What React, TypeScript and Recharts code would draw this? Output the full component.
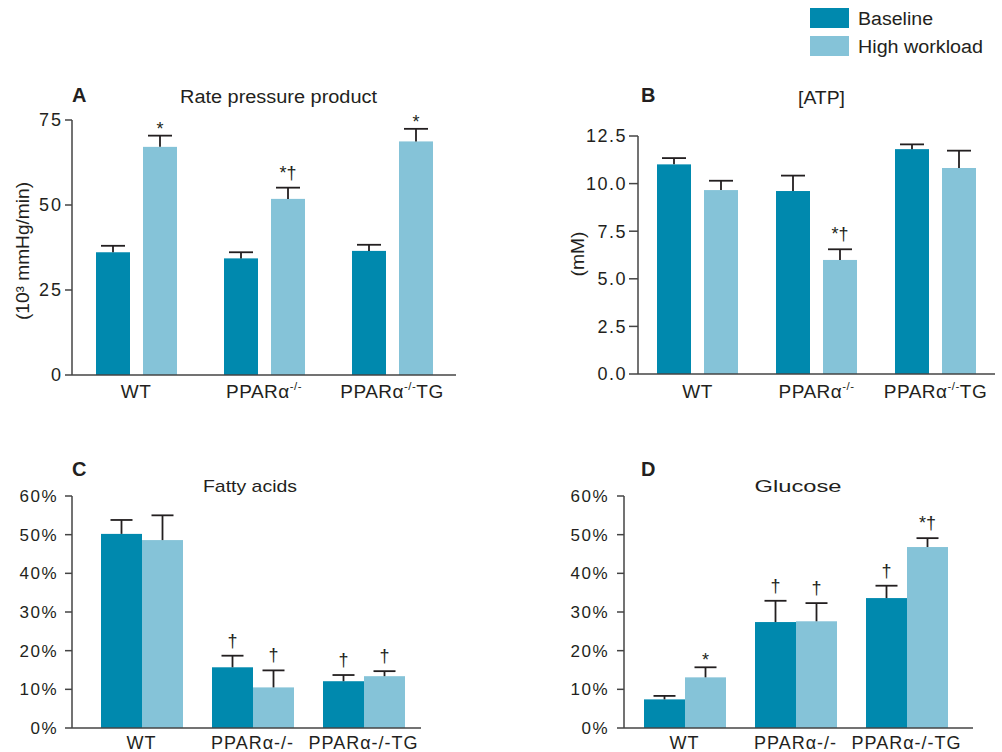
import React from 'react';
import { BarChart, Bar, XAxis, YAxis } from 'recharts';

const BASE_COLOR = '#0089ae';
const HIGH_COLOR = '#85c3d8';
const INK = '#231f20';
const AXIS = '#444444';
const FONT = '"Liberation Sans", Arial, Helvetica, sans-serif';

const CATS = ['WT', 'PPARα-/-', 'PPARα-/-TG'];

// A: rate pressure product (10^3 mmHg/min)
const RPP_TICKS = [0, 25, 50, 75];
const RPP_BASE = [36.1, 34.3, 36.5];
const RPP_BASE_ERR = [1.9, 1.8, 1.8];
const RPP_HIGH = [67.1, 51.8, 68.7];
const RPP_HIGH_ERR = [3.3, 3.3, 3.7];
const RPP_BASE_MARK = ['', '', ''];
const RPP_HIGH_MARK = ['*', '*†', '*'];

// B: [ATP] (mM)
const ATP_TICKS = [0, 2.5, 5, 7.5, 10, 12.5];
const ATP_BASE = [11.01, 9.61, 11.81];
const ATP_BASE_ERR = [0.33, 0.81, 0.25];
const ATP_HIGH = [9.66, 5.99, 10.82];
const ATP_HIGH_ERR = [0.49, 0.56, 0.91];
const ATP_BASE_MARK = ['', '', ''];
const ATP_HIGH_MARK = ['', '*†', ''];

// C: fatty acids (%)
const PCT_TICKS = [0, 10, 20, 30, 40, 50, 60];
const FA_BASE = [50.2, 15.7, 12.1];
const FA_BASE_ERR = [3.6, 3.0, 1.6];
const FA_HIGH = [48.6, 10.5, 13.4];
const FA_HIGH_ERR = [6.4, 4.4, 1.3];
const FA_BASE_MARK = ['', '†', '†'];
const FA_HIGH_MARK = ['', '†', '†'];

// D: glucose (%)
const GLU_BASE = [7.4, 27.4, 33.6];
const GLU_BASE_ERR = [0.9, 5.5, 3.2];
const GLU_HIGH = [13.1, 27.6, 46.8];
const GLU_HIGH_ERR = [2.6, 4.7, 2.3];
const GLU_BASE_MARK = ['', '†', '†'];
const GLU_HIGH_MARK = ['*', '†', '*†'];

const mkRows = (
  base: number[], baseErr: number[], high: number[], highErr: number[],
  baseMark: string[], highMark: string[]
) =>
  CATS.map((cat, i) => ({
    cat,
    base: base[i], baseErr: baseErr[i], baseMark: baseMark[i],
    high: high[i], highErr: highErr[i], highMark: highMark[i],
  }));

// bar with an upward-only error whisker and significance mark
const errShape = (valKey: string, errKey: string, markKey: string, capW: number) => (p: any) => {
  const { x, y, width, height, fill, payload } = p;
  const v = payload[valKey];
  const k = v ? height / v : 0;
  const ey = y - payload[errKey] * k;
  const cx = x + width / 2;
  const mark = payload[markKey];
  return (
    <g>
      <rect x={x} y={y} width={width} height={height} fill={fill} />
      <line x1={cx} x2={cx} y1={y} y2={ey} stroke={INK} strokeWidth={1.8} />
      <line x1={cx - capW / 2} x2={cx + capW / 2} y1={ey} y2={ey} stroke={INK} strokeWidth={1.8} />
      {mark ? (
        <text x={cx} y={mark === '*' ? ey - 1 : ey - 9} textAnchor="middle" fontSize={18} fontFamily={FONT} fill={INK}>
          {mark}
        </text>
      ) : null}
    </g>
  );
};

const CatTick = (props: any) => {
  const { x, y, payload, sup, fs, ls, dy } = props;
  const v: string = payload.value;
  const common = { x, y: y + dy, textAnchor: 'middle' as const, fontSize: fs, fontFamily: FONT, fill: INK, letterSpacing: ls };
  if (sup && v.includes('-/-')) {
    const [a, b] = v.split('-/-');
    return (
      <text {...common}>
        {a}
        <tspan fontSize={fs * 0.6} dy={-fs * 0.4}>-/-</tspan>
        {b ? <tspan fontSize={fs} dy={fs * 0.4}>{b}</tspan> : null}
      </text>
    );
  }
  return <text {...common}>{v}</text>;
};

type PanelProps = {
  left: number; top: number; width: number; height: number;
  margin: { top: number; right: number; bottom: number; left: number };
  rows: any[]; ticks: number[]; fmt: (v: number) => string;
  tickSize: number; tickMargin: number; yFont: number; yLs: number;
  barSize: number; barGap: number; pad: { left: number; right: number };
  sup: boolean; xFont: number; xLs: number; xDy: number; xHeight: number; capW: number;
};

const Panel = (p: PanelProps) => (
  <div style={{ position: 'absolute', left: p.left, top: p.top }}>
    <BarChart width={p.width} height={p.height} data={p.rows} margin={p.margin} barGap={p.barGap}>
      <XAxis
        dataKey="cat"
        interval={0}
        tickLine={false}
        tickSize={0}
        tickMargin={0}
        height={p.xHeight}
        padding={p.pad}
        axisLine={{ stroke: AXIS, strokeWidth: 1.5 }}
        tick={<CatTick sup={p.sup} fs={p.xFont} ls={p.xLs} dy={p.xDy} />}
      />
      <YAxis
        type="number"
        domain={[p.ticks[0], p.ticks[p.ticks.length - 1]]}
        ticks={p.ticks}
        interval={0}
        width={60}
        tickFormatter={p.fmt}
        tickSize={p.tickSize}
        tickMargin={p.tickMargin}
        axisLine={{ stroke: AXIS, strokeWidth: 1.5 }}
        tickLine={{ stroke: AXIS, strokeWidth: 1.5 }}
        tick={{ fill: INK, fontSize: p.yFont, fontFamily: FONT, letterSpacing: p.yLs }}
      />
      <Bar dataKey="base" fill={BASE_COLOR} barSize={p.barSize} isAnimationActive={false}
        shape={errShape('base', 'baseErr', 'baseMark', p.capW)} />
      <Bar dataKey="high" fill={HIGH_COLOR} barSize={p.barSize} isAnimationActive={false}
        shape={errShape('high', 'highErr', 'highMark', p.capW)} />
    </BarChart>
  </div>
);

const txt = { fontFamily: FONT, fill: INK };

export default function App() {
  return (
    <div style={{ position: 'absolute', left: 0, top: 0, width: 1002, height: 752, background: '#fff', overflow: 'hidden' }}>
      <Panel
        left={0} top={80} width={470} height={330}
        margin={{ top: 40, right: 14, bottom: 5, left: 12 }}
        rows={mkRows(RPP_BASE, RPP_BASE_ERR, RPP_HIGH, RPP_HIGH_ERR, RPP_BASE_MARK, RPP_HIGH_MARK)}
        ticks={RPP_TICKS} fmt={(v) => String(v)}
        tickSize={7} tickMargin={2} yFont={18} yLs={2}
        barSize={34} barGap={13} pad={{ left: 0, right: 0 }}
        sup xFont={19} xLs={0.5} xDy={23} xHeight={30} capW={24}
      />
      <Panel
        left={540} top={80} width={462} height={330}
        margin={{ top: 56, right: 7, bottom: 6, left: 38 }}
        rows={mkRows(ATP_BASE, ATP_BASE_ERR, ATP_HIGH, ATP_HIGH_ERR, ATP_BASE_MARK, ATP_HIGH_MARK)}
        ticks={ATP_TICKS} fmt={(v) => v.toFixed(1)}
        tickSize={9} tickMargin={2} yFont={18} yLs={1.5}
        barSize={34} barGap={13} pad={{ left: 0, right: 0 }}
        sup xFont={19} xLs={0.5} xDy={24} xHeight={30} capW={24}
      />
      <Panel
        left={0} top={470} width={470} height={282}
        margin={{ top: 26, right: 49, bottom: 0, left: 12 }}
        rows={mkRows(FA_BASE, FA_BASE_ERR, FA_HIGH, FA_HIGH_ERR, FA_BASE_MARK, FA_HIGH_MARK)}
        ticks={PCT_TICKS} fmt={(v) => v + '%'}
        tickSize={7} tickMargin={7} yFont={17} yLs={1.5}
        barSize={41} barGap={0} pad={{ left: 14, right: 2 }}
        sup={false} xFont={18} xLs={1} xDy={21} xHeight={24} capW={22}
      />
      <Panel
        left={540} top={470} width={462} height={282}
        margin={{ top: 26, right: 29, bottom: 0, left: 24 }}
        rows={mkRows(GLU_BASE, GLU_BASE_ERR, GLU_HIGH, GLU_HIGH_ERR, GLU_BASE_MARK, GLU_HIGH_MARK)}
        ticks={PCT_TICKS} fmt={(v) => v + '%'}
        tickSize={7} tickMargin={8} yFont={17} yLs={1.5}
        barSize={41} barGap={0} pad={{ left: 5, right: 11 }}
        sup={false} xFont={18} xLs={1} xDy={21} xHeight={24} capW={22}
      />
      <svg width={1002} height={752} style={{ position: 'absolute', left: 0, top: 0, pointerEvents: 'none' }}>
        {/* legend */}
        <rect x={810} y={8} width={39} height={20} fill={BASE_COLOR} />
        <rect x={810} y={36} width={39} height={20} fill={HIGH_COLOR} />
        <text x={858} y={25} fontSize={18} textLength={75} lengthAdjust="spacingAndGlyphs" {...txt}>Baseline</text>
        <text x={858} y={53} fontSize={18} textLength={125} lengthAdjust="spacingAndGlyphs" {...txt}>High workload</text>

        {/* panel letters */}
        <text x={72} y={102} fontSize={20} fontWeight="bold" {...txt}>A</text>
        <text x={641} y={102} fontSize={20} fontWeight="bold" {...txt}>B</text>
        <text x={72} y={476} fontSize={20} fontWeight="bold" {...txt}>C</text>
        <text x={641} y={476} fontSize={20} fontWeight="bold" {...txt}>D</text>

        {/* titles */}
        <text x={278.5} y={103} fontSize={18} textAnchor="middle" textLength={197} lengthAdjust="spacingAndGlyphs" {...txt}>Rate pressure product</text>
        <text x={821.5} y={104} fontSize={18} textAnchor="middle" textLength={47} lengthAdjust="spacingAndGlyphs" {...txt}>[ATP]</text>
        <text x={250} y={492} fontSize={17} textAnchor="middle" textLength={94} lengthAdjust="spacingAndGlyphs" {...txt}>Fatty acids</text>
        <text x={798} y={492} fontSize={17} textAnchor="middle" textLength={87} lengthAdjust="spacingAndGlyphs" {...txt}>Glucose</text>

        {/* y-axis titles */}
        <text x={23} y={251} fontSize={18} textAnchor="middle" dominantBaseline="central"
          transform="rotate(-90 23 251)" textLength={138} lengthAdjust="spacingAndGlyphs" {...txt}>(10³ mmHg/min)</text>
        <text x={577.5} y={254} fontSize={18} textAnchor="middle" dominantBaseline="central"
          transform="rotate(-90 577.5 254)" textLength={45} lengthAdjust="spacingAndGlyphs" {...txt}>(mM)</text>
      </svg>
    </div>
  );
}
